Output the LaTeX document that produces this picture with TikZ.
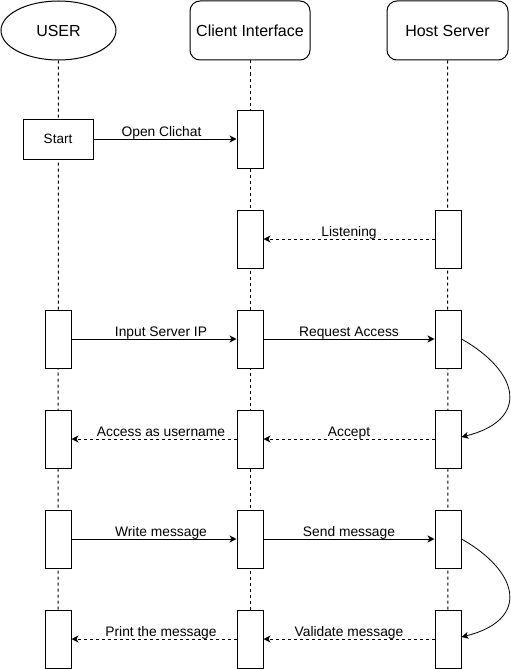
\documentclass[tikz,border=0pt]{standalone}
\usepackage{fontspec}
\setmainfont{Liberation Sans}
\usetikzlibrary{arrows.meta,shapes.geometric}

\begin{document}
\begin{tikzpicture}[x=1pt,y=-1pt,line width=1pt,
    headtxt/.style={font=\fontsize{16}{19}\selectfont},
    actbox/.style={draw,fill=white,minimum width=26pt,minimum height=58pt,inner sep=0pt},
    msg/.style={-{Stealth[length=7pt,width=7pt,inset=2pt]}},
    reply/.style={msg,dash pattern=on 3pt off 3pt},
    lbl/.style={midway,above=0pt,inner sep=1pt,text depth=1.5pt,font=\fontsize{13.8}{16}\selectfont},
    lblL/.style={lbl,xshift=7pt}]
\useasboundingbox[fill=white] (0,0) rectangle (511,669);

% heads
\node[draw,ellipse,minimum width=115pt,minimum height=59pt,headtxt] (user) at (58.5,30.5) {USER};
\node[draw,rounded corners=10pt,minimum width=120pt,minimum height=59pt,headtxt] (client) at (250,30.5) {Client Interface};
\node[draw,rounded corners=10pt,minimum width=121pt,minimum height=59pt,headtxt] (host) at (447.5,30.5) {Host Server};

% lifelines
\foreach \n/\x in {user/58,client/250,host/448}
  \draw[dash pattern=on 3pt off 3pt] (\n.south) -- (\x,669);

% boxes
\node[draw,fill=white,minimum width=70pt,minimum height=40pt,font=\fontsize{13.5}{16}\selectfont] (start) at (58,139) {Start};
\node[actbox] (c1) at (250,139) {};
\node[actbox] (c2) at (250,239) {};
\node[actbox] (h2) at (448,239) {};
\foreach \r/\y in {3/339,4/439,5/539,6/639}{
  \node[actbox] (u\r) at (58,\y) {};
  \node[actbox] (c\r) at (250,\y) {};
  \node[actbox] (h\r) at (448,\y) {};
}

% messages
\draw[msg] (start.east) -- (c1.west) node[lbl,xshift=-3.5pt] {Open Clichat};
\draw[reply] (h2.west) -- (c2.east) node[lbl] {Listening};
\draw[msg] (u3.east) -- (c3.west) node[lblL] {Input Server IP};
\draw[msg] (c3.east) -- (h3.west) node[lbl] {Request Access};
\draw[reply] (h4.west) -- (c4.east) node[lbl] {Accept};
\draw[reply] (c4.west) -- (u4.east) node[lblL] {Access as username};
\draw[msg] (u5.east) -- (c5.west) node[lblL] {Write message};
\draw[msg] (c5.east) -- (h5.west) node[lbl] {Send message};
\draw[reply] (h6.west) -- (c6.east) node[lbl] {Validate message};
\draw[reply] (c6.west) -- (u6.east) node[lblL] {Print the message};

% self calls
\draw[msg,line width=0.8pt] (h3.east) .. controls (520,372) and (530,420) .. ([yshift=2pt]h4.east);
\draw[msg,line width=0.8pt] (h5.east) .. controls (520,572) and (530,620) .. ([yshift=2pt]h6.east);
\end{tikzpicture}
\end{document}
